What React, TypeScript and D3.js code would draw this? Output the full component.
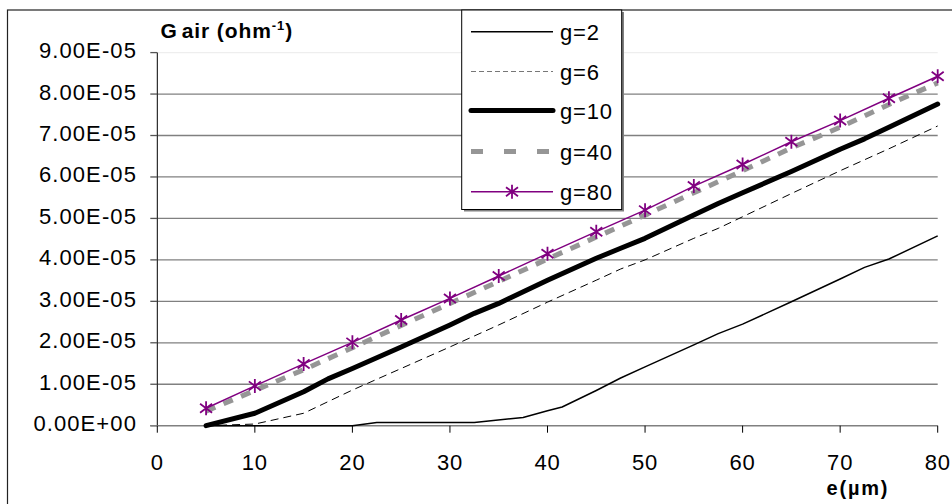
import React from "react";
import * as d3 from "d3";

// ---- data (values in 1e-5 ohm^-1) ----
const xTicks = [0, 10, 20, 30, 40, 50, 60, 70, 80];
const yTicks = [0, 1e-5, 2e-5, 3e-5, 4e-5, 5e-5, 6e-5, 7e-5, 8e-5, 9e-5];
const yTickLabels = ["0.00E+00", "1.00E-05", "2.00E-05", "3.00E-05", "4.00E-05", "5.00E-05", "6.00E-05", "7.00E-05", "8.00E-05", "9.00E-05"];

const g2X = [5, 10, 15, 20, 22.5, 25, 30, 32.5, 37.5, 40, 41.5, 45, 47.5, 50, 55, 57.5, 60, 65, 70, 72.5, 75, 80];
const g2Y = [0, 0, 0, 0, 0.08, 0.08, 0.08, 0.08, 0.2, 0.36, 0.45, 0.85, 1.15, 1.42, 1.95, 2.22, 2.45, 2.99, 3.54, 3.82, 4.02, 4.58];

const g6X = [5, 10, 15, 20, 25, 30, 35, 40, 45, 47.5, 50, 55, 57.5, 60, 65, 70, 75, 80];
const g6Y = [0, 0.04, 0.3, 0.86, 1.38, 1.9, 2.43, 2.98, 3.51, 3.78, 4.0, 4.52, 4.76, 5.04, 5.6, 6.15, 6.68, 7.23];

const g10X = [5, 10, 15, 17.5, 20, 25, 30, 32.5, 35, 40, 45, 47.5, 50, 55, 57.5, 60, 65, 70, 72.5, 75, 80];
const g10Y = [0, 0.3, 0.82, 1.13, 1.38, 1.9, 2.43, 2.71, 2.95, 3.51, 4.04, 4.28, 4.52, 5.08, 5.36, 5.62, 6.13, 6.67, 6.92, 7.2, 7.76];

const g40X = [5, 10, 15, 20, 25, 30, 35, 40, 45, 50, 55, 60, 65, 70, 75, 80];
const g40Y = [0.35, 0.85, 1.35, 1.88, 2.42, 2.95, 3.48, 4.02, 4.55, 5.08, 5.62, 6.15, 6.7, 7.2, 7.75, 8.27];

const g80X = [5, 10, 15, 20, 25, 30, 35, 40, 45, 50, 55, 60, 65, 70, 75, 80];
const g80Y = [0.42, 0.96, 1.49, 2.01, 2.55, 3.07, 3.61, 4.15, 4.68, 5.2, 5.78, 6.3, 6.85, 7.36, 7.9, 8.43];

const seriesNames = ["g=2", "g=6", "g=10", "g=40", "g=80"];

const FONT = "'Liberation Sans', Arial, sans-serif";

type Style = { stroke: string; width: number; dash?: string; marker?: boolean };
const styles: Style[] = [
  { stroke: "#000000", width: 1.5 },
  { stroke: "#000000", width: 1, dash: "8,5" },
  { stroke: "#000000", width: 5 },
  { stroke: "#969696", width: 5, dash: "10,9" },
  { stroke: "#800080", width: 1.5, marker: true },
];

const starPath = "M0,-7L0,7M-6,-4.5L6,4.5M-6,4.5L6,-4.5";

export default function App() {
  const x = d3.scaleLinear().domain([0, 80]).range([157.3, 937.7]);
  const y = d3.scaleLinear().domain([0, 9e-5]).range([425.7, 52.6]);

  const series = [
    [g2X, g2Y],
    [g6X, g6Y],
    [g10X, g10Y],
    [g40X, g40Y],
    [g80X, g80Y],
  ].map(([xs, ys]) => xs.map((v, i) => [v, ys[i] * 1e-5] as [number, number]));

  const line = d3
    .line<[number, number]>()
    .x((d) => x(d[0]))
    .y((d) => y(d[1]));

  const legendYs = [31.7, 71.5, 110.5, 151.5, 191.7];

  return (
    <svg
      width={952}
      height={504}
      style={{ position: "absolute", left: 0, top: 0, background: "#fff" }}
      fontFamily={FONT}
    >
      <rect x={0} y={0} width={952} height={504} fill="#fff" />
      {/* chart border */}
      <rect x={7.5} y={10} width={960} height={520} fill="none" stroke="#222" strokeWidth={1.2} />

      {/* gridlines */}
      {yTicks.map((t, i) =>
        i === 0 ? null : (
          <line
            key={"g" + i}
            x1={x(0)}
            x2={x(80)}
            y1={y(t)}
            y2={y(t)}
            stroke={i === yTicks.length - 1 ? "#eeeeee" : "#808080"}
            strokeWidth={1.3}
          />
        )
      )}

      {/* y axis */}
      <line x1={x(0)} x2={x(0)} y1={y(9e-5)} y2={y(0)} stroke="#000" strokeWidth={1} />
      {yTicks.map((t, i) => (
        <g key={"yt" + i}>
          <line x1={x(0) - 7} x2={x(0)} y1={y(t)} y2={y(t)} stroke="#555" strokeWidth={1.3} />
          <text
            x={137}
            y={y(t) + 5.5}
            textAnchor="end"
            fontSize={22}
            letterSpacing={1.1}
            fill="#000"
          >
            {yTickLabels[i]}
          </text>
        </g>
      ))}

      {/* x axis */}
      <line x1={x(0) - 7} x2={x(80)} y1={y(0)} y2={y(0)} stroke="#808080" strokeWidth={1.5} />
      {xTicks.map((t) => (
        <g key={"xt" + t}>
          <line x1={x(t)} x2={x(t)} y1={y(0)} y2={y(0) + 7} stroke="#000" strokeWidth={1} />
          <text x={x(t)} y={470} textAnchor="middle" fontSize={22} letterSpacing={0.8} fill="#000">
            {t}
          </text>
        </g>
      ))}

      {/* series */}
      {series.map((pts, i) => (
        <path
          key={"s" + i}
          d={line(pts) || ""}
          fill="none"
          stroke={styles[i].stroke}
          strokeWidth={styles[i].width}
          strokeDasharray={styles[i].dash}
          strokeLinejoin="round"
          strokeLinecap={i === 2 ? "round" : "butt"}
        />
      ))}
      {series[4].map((d, j) => (
        <path
          key={"m" + j}
          d={starPath}
          transform={`translate(${x(d[0])},${y(d[1])})`}
          fill="none"
          stroke="#800080"
          strokeWidth={1.8}
        />
      ))}

      {/* axis titles */}
      <text x={160.5} y={37.7} fontSize={21} fontWeight="bold" letterSpacing={0.9} fill="#000">
        <tspan>G</tspan>
        <tspan dx={4}>air (ohm</tspan>
        <tspan dy={-8} fontSize={13}>-1</tspan>
        <tspan dy={8}>)</tspan>
      </text>
      <text x={826.5} y={495} fontSize={20} fontWeight="bold" letterSpacing={1.8} fill="#000">
        e(µm)
      </text>

      {/* legend */}
      <rect x={464} y={12} width={160} height={199.5} fill="#808080" />
      <rect x={461.7} y={10} width={160} height={199.5} fill="#fff" stroke="#000" strokeWidth={1} />
      {seriesNames.map((name, i) => {
        const ly = legendYs[i];
        const s = styles[i];
        return (
          <g key={"l" + i}>
            <line
              x1={471}
              x2={553}
              y1={ly}
              y2={ly}
              stroke={i === 1 ? "#777" : s.stroke}
              strokeWidth={s.width}
              strokeDasharray={i === 1 ? "5,3" : i === 3 ? "12,21" : undefined}
              strokeLinecap={i === 2 ? "round" : "butt"}
            />
            {s.marker && (
              <path d={starPath} transform={`translate(512,${ly})`} fill="none" stroke="#800080" strokeWidth={1.8} />
            )}
            <text x={560} y={ly + 8} fontSize={22} letterSpacing={0.8} fill="#000">
              {name}
            </text>
          </g>
        );
      })}
    </svg>
  );
}
